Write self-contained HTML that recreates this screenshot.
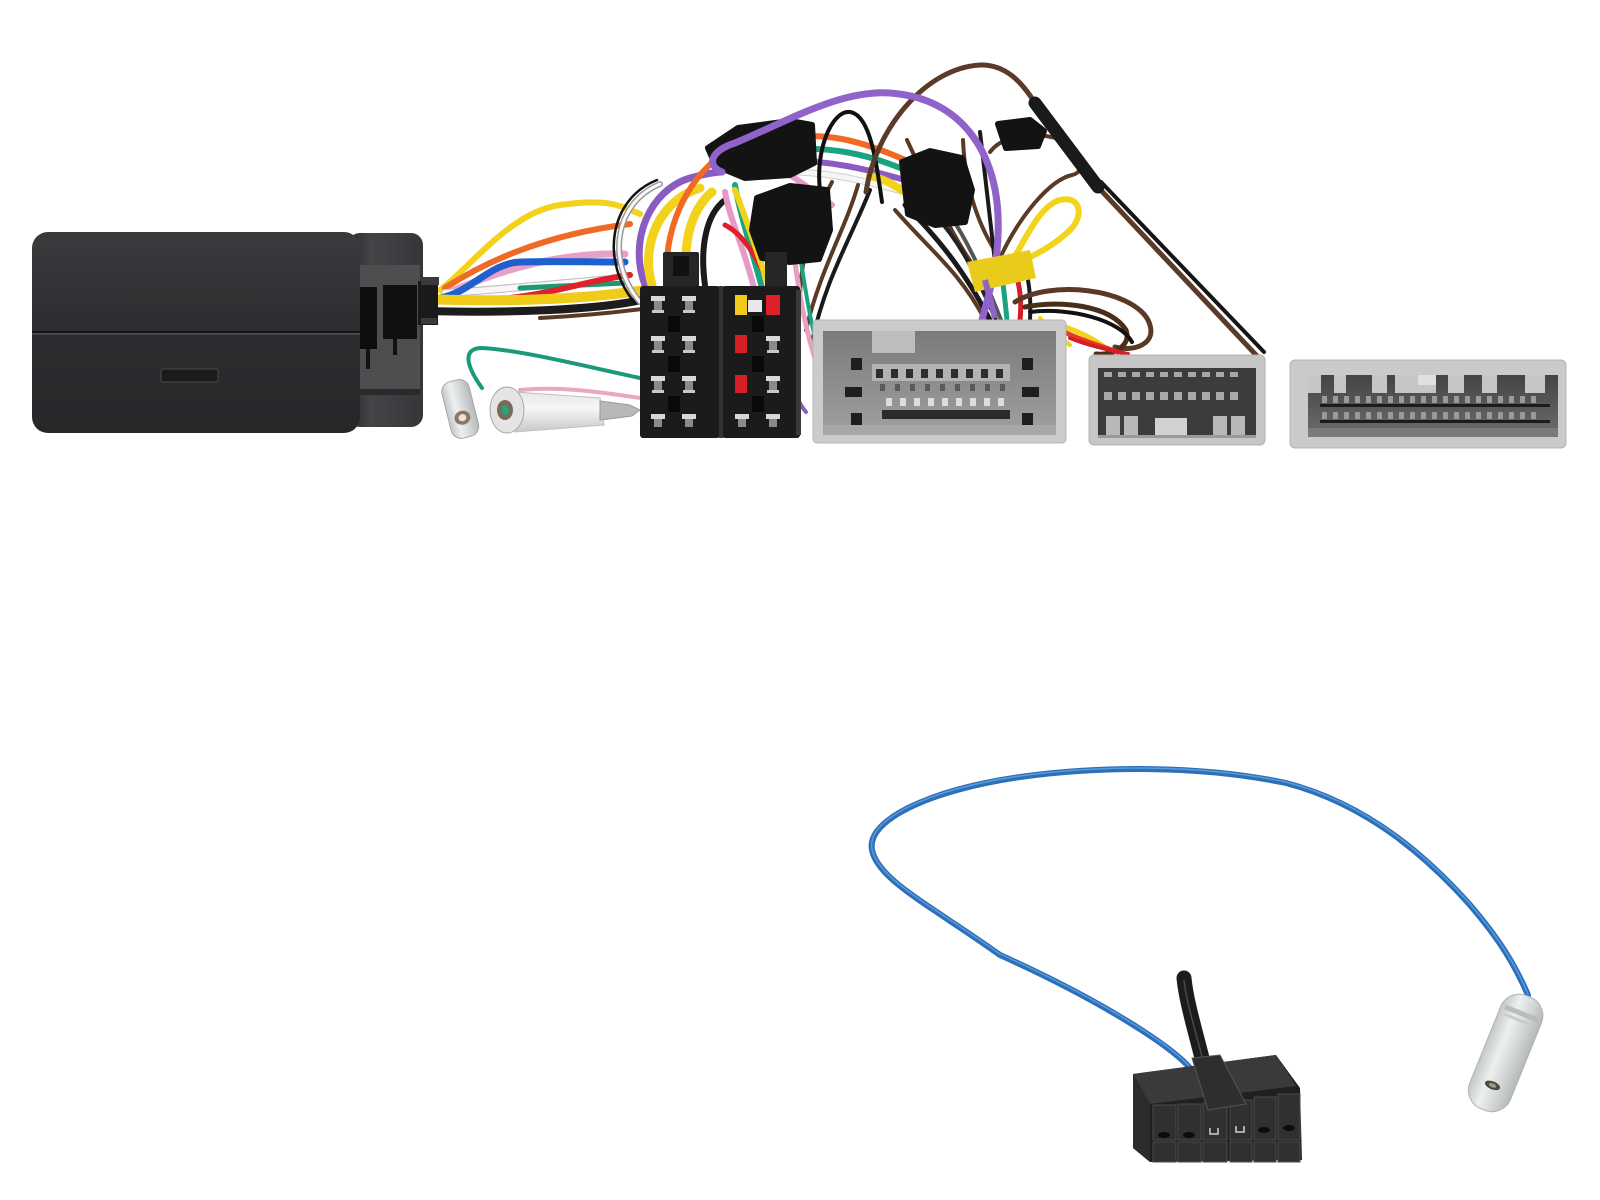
<!DOCTYPE html>
<html><head><meta charset="utf-8"><style>html,body{margin:0;padding:0;background:#fff}svg{display:block}</style></head>
<body>
<svg width="1600" height="1200" viewBox="0 0 1600 1200" xmlns="http://www.w3.org/2000/svg">
<defs>
<linearGradient id="boxg" x1="0" y1="0" x2="0" y2="1"><stop offset="0" stop-color="#3b3b3e"/><stop offset="0.45" stop-color="#2e2e31"/><stop offset="1" stop-color="#27272a"/></linearGradient>
<linearGradient id="sideg" x1="0" y1="0" x2="1" y2="0"><stop offset="0" stop-color="#2a2a2d"/><stop offset="0.3" stop-color="#444447"/><stop offset="1" stop-color="#363639"/></linearGradient>
<linearGradient id="g1in" x1="0" y1="0" x2="0" y2="1"><stop offset="0" stop-color="#7a7a7a"/><stop offset="1" stop-color="#a0a0a0"/></linearGradient>
<linearGradient id="g3in" x1="0" y1="0" x2="0" y2="1"><stop offset="0" stop-color="#444"/><stop offset="1" stop-color="#6c6c6c"/></linearGradient>
<linearGradient id="ferg" x1="0" y1="0" x2="1" y2="0"><stop offset="0" stop-color="#c4c8c8"/><stop offset="0.35" stop-color="#eef0f0"/><stop offset="0.7" stop-color="#d0d4d4"/><stop offset="1" stop-color="#b4b8b8"/></linearGradient>
<linearGradient id="tubeg" x1="0" y1="0" x2="0" y2="1"><stop offset="0" stop-color="#e6e6e6"/><stop offset="0.4" stop-color="#f6f6f6"/><stop offset="1" stop-color="#c8c8c8"/></linearGradient>
</defs>
<rect width="1600" height="1200" fill="#fff"/>

<!-- ===== wires from box to ISO ===== -->
<g fill="none" stroke-linecap="round">
<path d="M440,290 C470,268 510,212 560,205 S620,206 640,214" stroke="#f2d21b" stroke-width="6"/>
<path d="M445,288 C480,265 540,235 630,224" stroke="#f06a25" stroke-width="6"/>
<path d="M450,292 C500,270 560,252 625,254" stroke="#eaa0c6" stroke-width="7"/>
<path d="M445,293 C500,290 560,283 625,278" stroke="#bcbcbc" stroke-width="8"/>
<path d="M445,293 C500,290 560,283 625,278" stroke="#f7f7f7" stroke-width="6"/>
<path d="M440,298 C470,293 490,263 520,262 S600,262 625,262" stroke="#1f5fd0" stroke-width="7"/>
<path d="M520,288 L625,283" stroke="#1a9a70" stroke-width="5"/>
<path d="M510,298 C560,292 590,280 630,275" stroke="#e0202a" stroke-width="6"/>
<path d="M425,299 C500,302 580,300 645,290" stroke="#f0cc1a" stroke-width="10"/>
<path d="M425,311 C500,313 600,311 650,298" stroke="#1c1c1c" stroke-width="8"/>
<path d="M540,318 C580,316 620,312 650,308" stroke="#5a3a26" stroke-width="4"/>
</g>

<!-- ===== bundle from ISO upward ===== -->
<g fill="none" stroke-linecap="round">
<path d="M640,302 C606,262 614,203 660,184" stroke="#999" stroke-width="6"/>
<path d="M640,302 C606,262 614,203 660,184" stroke="#fafafa" stroke-width="3"/>
<path d="M635,303 C600,262 609,199 657,180" stroke="#111" stroke-width="2.5"/>
<path d="M645,285 C628,240 650,190 690,178 C705,174 715,172 722,172" stroke="#8a5cc2" stroke-width="7"/>
<path d="M652,285 C640,245 660,200 700,188" stroke="#f2d21b" stroke-width="9"/>
<path d="M668,285 C662,240 680,190 715,160" stroke="#f06a25" stroke-width="6"/>
<path d="M690,285 C680,250 690,210 712,192" stroke="#f2d21b" stroke-width="9"/>
<path d="M705,285 C700,250 705,215 725,200" stroke="#1a1a1a" stroke-width="6"/>
<path d="M755,292 C745,250 730,220 725,192" stroke="#e79ac8" stroke-width="6"/>
<path d="M762,288 C752,250 740,215 735,185" stroke="#1aa383" stroke-width="6"/>
<path d="M772,292 C760,262 745,235 725,225" stroke="#e0202a" stroke-width="5"/>
<path d="M735,190 C750,230 760,260 770,290" stroke="#f2d21b" stroke-width="6"/>
<!-- between velcros -->
<path d="M780,140 C820,130 860,140 905,160" stroke="#f06a25" stroke-width="6"/>
<path d="M780,150 C830,145 870,155 905,170" stroke="#1aa383" stroke-width="6"/>
<path d="M780,160 C830,160 870,170 905,180" stroke="#8a5cc2" stroke-width="6"/>
<path d="M790,172 C830,172 870,182 905,192" stroke="#cfcfcf" stroke-width="7"/>
<path d="M790,172 C830,172 870,182 905,192" stroke="#f6f6f6" stroke-width="5"/>
<path d="M780,168 C800,182 820,195 832,205" stroke="#e79ac8" stroke-width="6"/>
<path d="M870,176 C890,180 900,190 912,196" stroke="#f2d21b" stroke-width="8"/>
<path d="M820,190 C815,150 832,110 850,112 C870,115 876,160 882,202" stroke="#111" stroke-width="4"/>
<!-- descending to ISO right / grey conn left -->
<path d="M858,185 C845,230 820,270 806,330" stroke="#5a3a26" stroke-width="4"/>
<path d="M870,190 C850,240 825,280 812,342" stroke="#1a1a1a" stroke-width="4"/>
<path d="M832,182 C812,220 800,260 800,300" stroke="#5a3a26" stroke-width="4"/>
<path d="M795,262 C800,300 806,330 816,362" stroke="#e8a0c0" stroke-width="5"/>
<path d="M801,262 C807,300 812,330 820,356" stroke="#1aa383" stroke-width="4"/>
<path d="M790,380 C795,395 800,405 806,412" stroke="#8a5cc2" stroke-width="4"/>
<!-- lower bundle to grey connector -->
<path d="M907,140 C930,190 955,240 975,268" stroke="#5a3a26" stroke-width="4"/>
<path d="M963,140 C965,190 980,230 1000,258" stroke="#5a3a26" stroke-width="4"/>
<path d="M980,132 C985,172 990,222 995,262" stroke="#1a1a1a" stroke-width="4"/>
<path d="M895,210 C930,250 960,272 985,320" stroke="#5a3a26" stroke-width="4"/>
<path d="M905,205 C940,240 965,272 990,320" stroke="#1a1a1a" stroke-width="5"/>
<path d="M935,215 C960,242 975,272 996,320" stroke="#222" stroke-width="4"/>
<path d="M950,215 C970,245 986,282 1001,320" stroke="#555" stroke-width="4"/>
<path d="M1000,262 C1003,282 1005,300 1007,320" stroke="#1aa383" stroke-width="5"/>
<path d="M1014,266 C1020,286 1022,302 1020,320" stroke="#d41f26" stroke-width="5"/>
<path d="M1025,266 C1030,286 1031,302 1030,320" stroke="#1a1a1a" stroke-width="4"/>
<!-- brown hook near yellow loop -->
<path d="M1000,258 C1020,215 1050,180 1072,175 C1087,172 1084,150 1062,140 C1032,130 1002,136 990,152" stroke="#5a3a26" stroke-width="4"/>
<!-- right loops to middle connector -->
<path d="M1015,302 C1050,280 1130,288 1148,320 C1160,345 1132,352 1115,347" stroke="#5a3a26" stroke-width="5"/>
<path d="M1025,307 C1060,300 1110,305 1126,330 C1132,346 1112,356 1096,354" stroke="#4a2e1c" stroke-width="5"/>
<path d="M1030,312 C1070,307 1120,320 1132,342" stroke="#111" stroke-width="4"/>
<path d="M1052,322 C1074,330 1090,336 1106,348" stroke="#f2d21b" stroke-width="5"/>
<path d="M1060,330 C1080,340 1100,346 1118,352" stroke="#e8391f" stroke-width="5"/>
<path d="M1070,338 C1090,346 1110,350 1128,354" stroke="#d41f26" stroke-width="4"/>
<path d="M1040,318 C1050,330 1060,338 1070,345" stroke="#f2d21b" stroke-width="4"/>
<!-- top brown loop + sleeve -->
<path d="M866,192 C875,130 925,68 980,65 C1005,64 1022,82 1035,103" stroke="#5b3b27" stroke-width="5"/>
<path d="M1096,185 L1257,356" stroke="#5b3b27" stroke-width="5"/>
<path d="M1101,182 L1264,352" stroke="#151515" stroke-width="4"/>
<path d="M1035,103 L1098,187" stroke="#1a1a1a" stroke-width="13"/>
</g>

<!-- velcro straps -->
<g fill="#131313" stroke="#131313" stroke-width="6" stroke-linejoin="round">
<polygon points="708,148 738,128 790,121 812,125 814,163 790,175 745,178 716,166"/>
<polygon points="757,198 790,186 827,190 830,230 819,259 790,262 762,258 752,230"/>
<polygon points="902,162 930,151 962,158 972,190 965,222 935,225 908,214"/>
<polygon points="998,124 1030,120 1044,131 1038,146 1006,148"/>
</g>

<!-- purple loop over straps -->
<path d="M722,172 C705,165 712,150 735,143 C790,120 840,90 890,93 C960,98 995,150 998,215 C1000,265 988,295 982,320" fill="none" stroke="#8f63c9" stroke-width="7" stroke-linecap="round"/>
<!-- yellow loop + band -->
<path d="M1010,265 C1025,240 1040,205 1060,200 C1080,195 1085,215 1070,230 C1055,245 1035,255 1020,262" fill="none" stroke="#f3d41c" stroke-width="6" stroke-linecap="round"/>
<polygon points="967,262 1030,250 1036,278 975,292" fill="#e9cc1b"/>
<path d="M985,280 L995,318" stroke="#8f63c9" stroke-width="6"/>

<!-- ===== black box ===== -->
<rect x="348" y="233" width="75" height="194" rx="12" fill="url(#sideg)"/>
<rect x="358" y="265" width="62" height="124" fill="#4e4e51"/>
<rect x="358" y="287" width="19" height="62" fill="#0e0e0e"/>
<rect x="383" y="285" width="34" height="54" fill="#101010"/>
<rect x="366" y="349" width="4" height="20" fill="#111"/>
<rect x="393" y="339" width="4" height="16" fill="#111"/>
<rect x="358" y="389" width="62" height="6" fill="#2a2a2c"/>
<rect x="418" y="281" width="20" height="44" fill="#1a1a1a"/>
<rect x="421" y="277" width="18" height="8" fill="#3a3a3a"/>
<rect x="421" y="318" width="16" height="6" fill="#3a3a3a"/>
<rect x="32" y="232" width="328" height="201" rx="16" fill="url(#boxg)"/>
<rect x="32" y="331" width="328" height="2" fill="#141416"/>
<rect x="32" y="333" width="328" height="1.5" fill="#505053"/>
<rect x="161" y="369" width="57" height="13" rx="2" fill="#1b1b1c" stroke="#4a4a4c" stroke-width="1"/>

<!-- ===== ferrules left ===== -->
<g fill="none" stroke-linecap="round">
<path d="M640,378 C580,365 520,350 482,348 C466,348 462,360 482,388" stroke="#1a9a78" stroke-width="4"/>
<path d="M640,398 C600,392 560,386 520,390" stroke="#eaa8be" stroke-width="4"/>
</g>
<g transform="rotate(-14 460 408)">
<rect x="446" y="380" width="28" height="58" rx="10" fill="url(#ferg)" stroke="#a8a8a8"/>
<ellipse cx="460" cy="418" rx="8" ry="7" fill="#8a7866"/>
<ellipse cx="460" cy="418" rx="4" ry="3.5" fill="#e8e2dc"/>
</g>
<polygon points="515,392 600,398 604,425 515,432" fill="url(#tubeg)" stroke="#c0c0c0"/>
<polygon points="600,401 630,405 640,410 632,416 600,420" fill="#b8b8b8" stroke="#999"/>
<ellipse cx="507" cy="410" rx="17" ry="23" fill="#e4e4e4" stroke="#a8a8a8"/>
<ellipse cx="505" cy="410" rx="8" ry="10" fill="#7a6a5a"/>
<ellipse cx="505" cy="410" rx="4" ry="5" fill="#2aa07c"/>

<!-- ===== ISO connectors ===== -->
<g>
<rect x="663" y="252" width="36" height="40" rx="2" fill="#262626"/>
<rect x="673" y="256" width="16" height="20" fill="#111"/>
<rect x="765" y="252" width="22" height="40" rx="2" fill="#262626"/>
<rect x="640" y="286" width="80" height="152" rx="3" fill="#1b1b1b"/>
<rect x="722" y="286" width="78" height="152" rx="3" fill="#1b1b1b"/>
<rect x="719" y="286" width="4" height="152" fill="#333"/>
<rect x="796" y="290" width="5" height="145" fill="#3a3a3a"/>
</g>
<g fill="#0a0a0a">
<rect x="668" y="316" width="12" height="16"/><rect x="668" y="356" width="12" height="16"/><rect x="668" y="396" width="12" height="16"/>
<rect x="752" y="316" width="12" height="16"/><rect x="752" y="356" width="12" height="16"/><rect x="752" y="396" width="12" height="16"/>
</g>
<g>
<g fill="#d8d8d8">
<rect x="651" y="296" width="14" height="5"/><rect x="682" y="296" width="14" height="5"/>
<rect x="651" y="336" width="14" height="5"/><rect x="682" y="336" width="14" height="5"/>
<rect x="651" y="376" width="14" height="5"/><rect x="682" y="376" width="14" height="5"/>
<rect x="651" y="414" width="14" height="5"/><rect x="682" y="414" width="14" height="5"/>
<rect x="766" y="336" width="14" height="5"/><rect x="766" y="376" width="14" height="5"/>
<rect x="735" y="414" width="14" height="5"/><rect x="766" y="414" width="14" height="5"/>
</g>
<g fill="#8a8a8a">
<rect x="654" y="301" width="8" height="9"/><rect x="685" y="301" width="8" height="9"/>
<rect x="654" y="341" width="8" height="9"/><rect x="685" y="341" width="8" height="9"/>
<rect x="654" y="381" width="8" height="9"/><rect x="685" y="381" width="8" height="9"/>
<rect x="654" y="419" width="8" height="8"/><rect x="685" y="419" width="8" height="8"/>
<rect x="769" y="341" width="8" height="9"/><rect x="769" y="381" width="8" height="9"/>
<rect x="738" y="419" width="8" height="8"/><rect x="769" y="419" width="8" height="8"/>
</g>
<g fill="#c8c8c8">
<rect x="652" y="310" width="12" height="3"/><rect x="683" y="310" width="12" height="3"/>
<rect x="652" y="350" width="12" height="3"/><rect x="683" y="350" width="12" height="3"/>
<rect x="652" y="390" width="12" height="3"/><rect x="683" y="390" width="12" height="3"/>
<rect x="767" y="350" width="12" height="3"/><rect x="767" y="390" width="12" height="3"/>
</g>
<rect x="735" y="295" width="12" height="20" fill="#f2c81a"/>
<rect x="766" y="295" width="14" height="20" fill="#e0202a"/>
<rect x="735" y="335" width="12" height="18" fill="#d41f26"/>
<rect x="735" y="375" width="12" height="18" fill="#d41f26"/>
<rect x="748" y="300" width="14" height="12" fill="#e8e8e8"/>
</g>

<!-- ===== grey connector 1 ===== -->
<rect x="813" y="320" width="253" height="123" rx="4" fill="#cbcbcb" stroke="#b4b4b4"/>
<rect x="823" y="331" width="233" height="104" fill="url(#g1in)"/>
<rect x="872" y="331" width="43" height="22" fill="#bdbdbd"/>
<rect x="872" y="364" width="138" height="17" fill="#b3b3b3"/>
<g fill="#2e2e2e">
<rect x="876" y="369" width="7" height="9"/><rect x="891" y="369" width="7" height="9"/><rect x="906" y="369" width="7" height="9"/><rect x="921" y="369" width="7" height="9"/><rect x="936" y="369" width="7" height="9"/><rect x="951" y="369" width="7" height="9"/><rect x="966" y="369" width="7" height="9"/><rect x="981" y="369" width="7" height="9"/><rect x="996" y="369" width="7" height="9"/>
</g>
<g fill="#5a5a5a">
<rect x="880" y="384" width="5" height="7"/><rect x="895" y="384" width="5" height="7"/><rect x="910" y="384" width="5" height="7"/><rect x="925" y="384" width="5" height="7"/><rect x="940" y="384" width="5" height="7"/><rect x="955" y="384" width="5" height="7"/><rect x="970" y="384" width="5" height="7"/><rect x="985" y="384" width="5" height="7"/><rect x="1000" y="384" width="5" height="7"/>
</g>
<g fill="#dedede">
<rect x="886" y="398" width="6" height="8"/><rect x="900" y="398" width="6" height="8"/><rect x="914" y="398" width="6" height="8"/><rect x="928" y="398" width="6" height="8"/><rect x="942" y="398" width="6" height="8"/><rect x="956" y="398" width="6" height="8"/><rect x="970" y="398" width="6" height="8"/><rect x="984" y="398" width="6" height="8"/><rect x="998" y="398" width="6" height="8"/>
</g>
<rect x="882" y="410" width="128" height="9" fill="#2a2a2a"/>
<g fill="#1e1e1e">
<rect x="851" y="358" width="11" height="12"/><rect x="1022" y="358" width="11" height="12"/>
<rect x="845" y="387" width="17" height="10"/><rect x="1022" y="387" width="17" height="10"/>
<rect x="851" y="413" width="11" height="22"/><rect x="1022" y="413" width="11" height="22"/>
</g>
<rect x="823" y="425" width="233" height="10" fill="#a8a8a8"/>

<!-- ===== middle connector ===== -->
<rect x="1089" y="355" width="176" height="90" rx="5" fill="#c6c6c6" stroke="#b2b2b2"/>
<rect x="1098" y="368" width="158" height="70" fill="#3c3c3c"/>
<g fill="#a8a8a8">
<rect x="1104" y="372" width="8" height="5"/><rect x="1118" y="372" width="8" height="5"/><rect x="1132" y="372" width="8" height="5"/><rect x="1146" y="372" width="8" height="5"/><rect x="1160" y="372" width="8" height="5"/><rect x="1174" y="372" width="8" height="5"/><rect x="1188" y="372" width="8" height="5"/><rect x="1202" y="372" width="8" height="5"/><rect x="1216" y="372" width="8" height="5"/><rect x="1230" y="372" width="8" height="5"/>
<rect x="1104" y="392" width="8" height="8"/><rect x="1118" y="392" width="8" height="8"/><rect x="1132" y="392" width="8" height="8"/><rect x="1146" y="392" width="8" height="8"/><rect x="1160" y="392" width="8" height="8"/><rect x="1174" y="392" width="8" height="8"/><rect x="1188" y="392" width="8" height="8"/><rect x="1202" y="392" width="8" height="8"/><rect x="1216" y="392" width="8" height="8"/><rect x="1230" y="392" width="8" height="8"/>
</g>
<g fill="#b8b8b8">
<rect x="1106" y="416" width="14" height="22"/><rect x="1124" y="416" width="14" height="22"/>
<rect x="1213" y="416" width="14" height="22"/><rect x="1231" y="416" width="14" height="22"/>
</g>
<rect x="1155" y="418" width="32" height="20" fill="#d2d2d2"/>
<rect x="1098" y="435" width="158" height="3" fill="#9a9a9a"/>

<!-- ===== right connector ===== -->
<rect x="1290" y="360" width="276" height="88" rx="5" fill="#cacaca" stroke="#b4b4b4"/>
<rect x="1308" y="375" width="250" height="62" fill="url(#g3in)"/>
<g fill="#c6c6c6">
<rect x="1308" y="375" width="13" height="18"/><rect x="1334" y="375" width="12" height="18"/><rect x="1372" y="375" width="15" height="18"/><rect x="1395" y="375" width="41" height="18"/><rect x="1448" y="375" width="16" height="18"/><rect x="1482" y="375" width="15" height="18"/><rect x="1525" y="375" width="20" height="18"/>
</g>
<rect x="1418" y="375" width="18" height="10" fill="#e0e0e0"/>
<g fill="#9a9a9a">
<rect x="1322" y="396" width="5" height="7"/><rect x="1333" y="396" width="5" height="7"/><rect x="1344" y="396" width="5" height="7"/><rect x="1355" y="396" width="5" height="7"/><rect x="1366" y="396" width="5" height="7"/><rect x="1377" y="396" width="5" height="7"/><rect x="1388" y="396" width="5" height="7"/><rect x="1399" y="396" width="5" height="7"/><rect x="1410" y="396" width="5" height="7"/><rect x="1421" y="396" width="5" height="7"/><rect x="1432" y="396" width="5" height="7"/><rect x="1443" y="396" width="5" height="7"/><rect x="1454" y="396" width="5" height="7"/><rect x="1465" y="396" width="5" height="7"/><rect x="1476" y="396" width="5" height="7"/><rect x="1487" y="396" width="5" height="7"/><rect x="1498" y="396" width="5" height="7"/><rect x="1509" y="396" width="5" height="7"/><rect x="1520" y="396" width="5" height="7"/><rect x="1531" y="396" width="5" height="7"/>
<rect x="1322" y="412" width="5" height="7"/><rect x="1333" y="412" width="5" height="7"/><rect x="1344" y="412" width="5" height="7"/><rect x="1355" y="412" width="5" height="7"/><rect x="1366" y="412" width="5" height="7"/><rect x="1377" y="412" width="5" height="7"/><rect x="1388" y="412" width="5" height="7"/><rect x="1399" y="412" width="5" height="7"/><rect x="1410" y="412" width="5" height="7"/><rect x="1421" y="412" width="5" height="7"/><rect x="1432" y="412" width="5" height="7"/><rect x="1443" y="412" width="5" height="7"/><rect x="1454" y="412" width="5" height="7"/><rect x="1465" y="412" width="5" height="7"/><rect x="1476" y="412" width="5" height="7"/><rect x="1487" y="412" width="5" height="7"/><rect x="1498" y="412" width="5" height="7"/><rect x="1509" y="412" width="5" height="7"/><rect x="1520" y="412" width="5" height="7"/><rect x="1531" y="412" width="5" height="7"/>
</g>
<g fill="#1c1c1c">
<rect x="1320" y="404" width="230" height="3"/>
<rect x="1320" y="420" width="230" height="3"/>
</g>
<rect x="1308" y="428" width="250" height="9" fill="#7a7a7a"/>

<!-- ===== bottom: blue wire ===== -->
<path d="M1190,1068 C1170,1045 1100,1000 1000,955 C930,905 878,880 872,850 C866,820 930,790 1020,777 C1100,766 1200,765 1286,783 C1370,805 1430,860 1470,905 C1500,940 1515,965 1528,995" fill="none" stroke="#2c6fba" stroke-width="6" stroke-linecap="round"/>
<path d="M1190,1068 C1170,1045 1100,1000 1000,955 C930,905 878,880 872,850 C866,820 930,790 1020,777 C1100,766 1200,765 1286,783 C1370,805 1430,860 1470,905 C1500,940 1515,965 1528,995" fill="none" stroke="#5a9ad8" stroke-width="1.5" stroke-linecap="round" transform="translate(0,-1)"/>

<!-- black hairpin -->
<path d="M1184,978 C1186,1000 1195,1030 1203,1062" fill="none" stroke="#1c1c1c" stroke-width="15" stroke-linecap="round"/>
<path d="M1184,980 C1186,1000 1195,1030 1203,1060" fill="none" stroke="#4a4a4a" stroke-width="1.5"/>

<!-- connector -->
<polygon points="1133,1074 1276,1055 1300,1088 1302,1160 1150,1162 1133,1148" fill="#202020"/>
<polygon points="1133,1074 1276,1055 1296,1086 1150,1104" fill="#3a3a3a"/>
<polygon points="1133,1074 1150,1104 1150,1162 1133,1148" fill="#2c2c2c"/>
<g fill="#303030" stroke="#4a4a4a" stroke-width="1">
<rect x="1153" y="1105" width="23" height="35"/>
<rect x="1178" y="1104" width="23" height="36"/>
<rect x="1203" y="1103" width="24" height="37"/>
<rect x="1230" y="1100" width="22" height="40"/>
<rect x="1254" y="1097" width="22" height="43"/>
<rect x="1278" y="1094" width="22" height="46"/>
<rect x="1153" y="1142" width="23" height="20"/>
<rect x="1178" y="1142" width="23" height="20"/>
<rect x="1203" y="1142" width="24" height="20"/>
<rect x="1230" y="1142" width="22" height="20"/>
<rect x="1254" y="1142" width="22" height="20"/>
<rect x="1278" y="1142" width="22" height="20"/>
</g>
<g fill="#0c0c0c">
<ellipse cx="1164" cy="1135" rx="6" ry="3"/><ellipse cx="1189" cy="1135" rx="6" ry="3"/>
<ellipse cx="1264" cy="1130" rx="6" ry="3"/><ellipse cx="1289" cy="1128" rx="6" ry="3"/>
</g>
<path d="M1210,1128 v6 h8 v-6 M1236,1126 v6 h8 v-6" fill="none" stroke="#cfcfcf" stroke-width="1.5"/>
<polygon points="1192,1058 1220,1055 1246,1104 1208,1110" fill="#2e2e2e" stroke="#555" stroke-width="1"/>

<!-- bottom ferrule -->
<g transform="rotate(22 1506 1052)">
<rect x="1484" y="992" width="44" height="122" rx="20" fill="url(#ferg)" stroke="#b0b4b4"/>
<rect x="1488" y="1008" width="36" height="5" fill="#b8bcbc"/>
<rect x="1490" y="1016" width="32" height="3" fill="#c8cccc"/>
<ellipse cx="1506" cy="1088" rx="8" ry="4" fill="#4a4a40"/>
<ellipse cx="1506" cy="1088" rx="4" ry="2" fill="#9a9a88"/>
</g>
</svg>
</body></html>
